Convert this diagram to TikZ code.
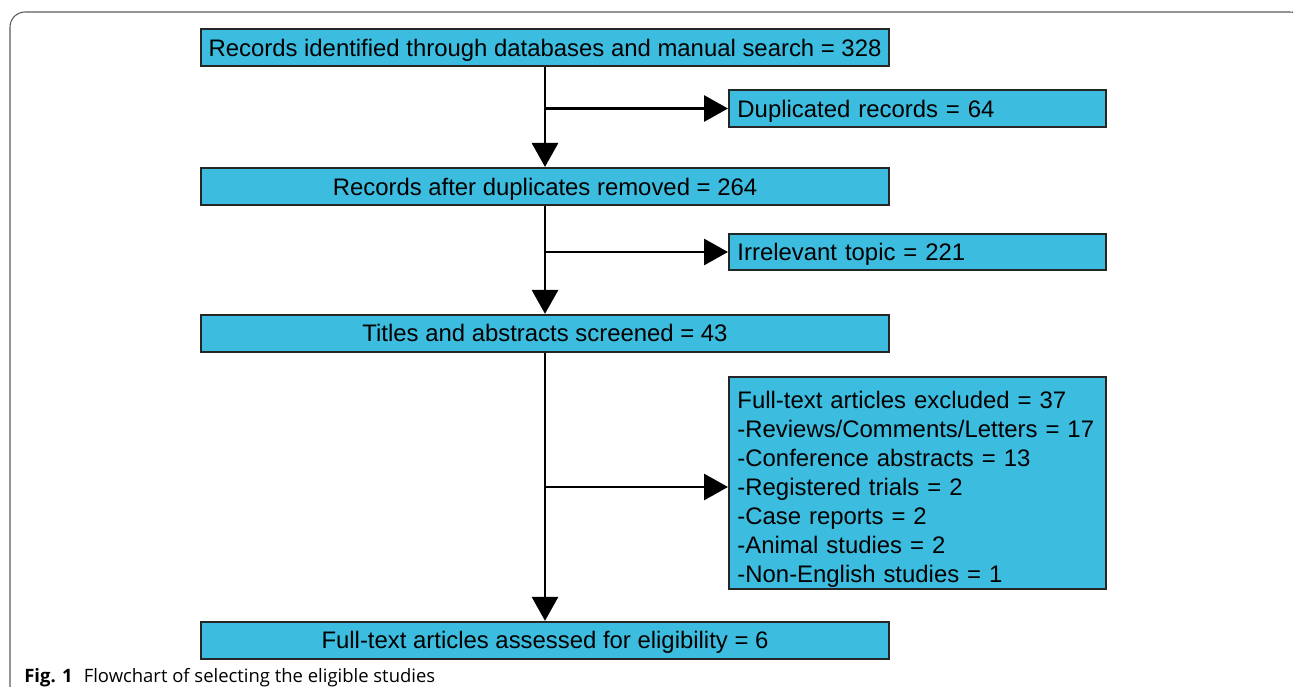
\documentclass[tikz,border=0pt]{standalone}
\usepackage{fontspec}
\setmainfont{Liberation Sans}
\newfontfamily\capfont{Open Sans}
\usepackage{xcolor}
\usetikzlibrary{arrows.meta, positioning}
\definecolor{flowcyan}{RGB}{60, 189, 224}
\definecolor{framegray}{RGB}{90, 90, 90}

\begin{document}
\begin{tikzpicture}[
    node distance=2cm,
    box/.style={draw=black!85, line width=1.1pt, fill=flowcyan, minimum width=13.76cm, minimum height=0.74cm, inner sep=0pt, text height=9.8pt, text depth=0pt, font=\fontsize{13.6}{16.5}\selectfont},
    sidebox/.style={draw=black!85, line width=1.1pt, fill=flowcyan, text width=7.2cm, inner xsep=0.17cm, inner ysep=0pt, minimum height=0.73cm, align=left, anchor=west, font=\fontsize{13.6}{16.5}\selectfont},
    arrow/.style={-{Triangle[length=0.48cm, width=0.52cm]}, line width=1.7pt}
]
    \useasboundingbox (0,0) rectangle (25.86,-13.74);
    \clip (0,0) rectangle (25.86,-13.74);
    % Figure frame
    \draw[framegray, line width=0.6pt, rounded corners=0.3cm] (0.2,-0.24) rectangle (26.1,-14.3);

    % Main column
    \node[box] (rec) at (10.9,-0.95) {Records identified through databases and manual search = 328};
    \node[box, below=2cm of rec] (dedup) {Records after duplicates removed = 264};
    \node[box, below=2.16cm of dedup] (screen) {Titles and abstracts screened = 43};
    \node[box, below=5.36cm of screen] (elig) {Full-text articles assessed for eligibility = 6};

    % Excluded records
    \node[sidebox, text height=9.8pt, text depth=0pt] (dup) at (14.56,-2.17) {Duplicated records = 64};
    \node[sidebox, text height=9.8pt, text depth=0pt] (irr) at (14.56,-5.04) {Irrelevant topic = 221};
    \node[sidebox, minimum height=4.24cm] (excl) at (14.56,-9.66) {\rule{0pt}{16.7pt}Full-text articles excluded = 37\\
        -Reviews/Comments/Letters = 17\\
        -Conference abstracts = 13\\
        -Registered trials = 2\\
        -Case reports = 2\\
        -Animal studies = 2\\
        -Non-English studies = 1};

    % Flow
    \draw[arrow] (rec) -- (dedup);
    \draw[arrow] (dedup) -- (screen);
    \draw[arrow] (screen) -- (elig);
    \draw[arrow] (rec.south |- dup.west) -- (dup.west);
    \draw[arrow] (dedup.south |- irr.west) -- (irr.west);
    \coordinate (exclin) at ([yshift=-0.08cm]excl.west);
    \draw[arrow] (screen.south |- exclin) -- (exclin);

    % Caption
    \node[anchor=west, inner sep=0pt, font=\capfont\fontsize{10.5}{12}\selectfont] (cap) at (0.48,-13.56) {\textbf{Fig. 1}\hspace{0.6em}Flowchart of selecting the eligible studies};
\end{tikzpicture}
\end{document}
